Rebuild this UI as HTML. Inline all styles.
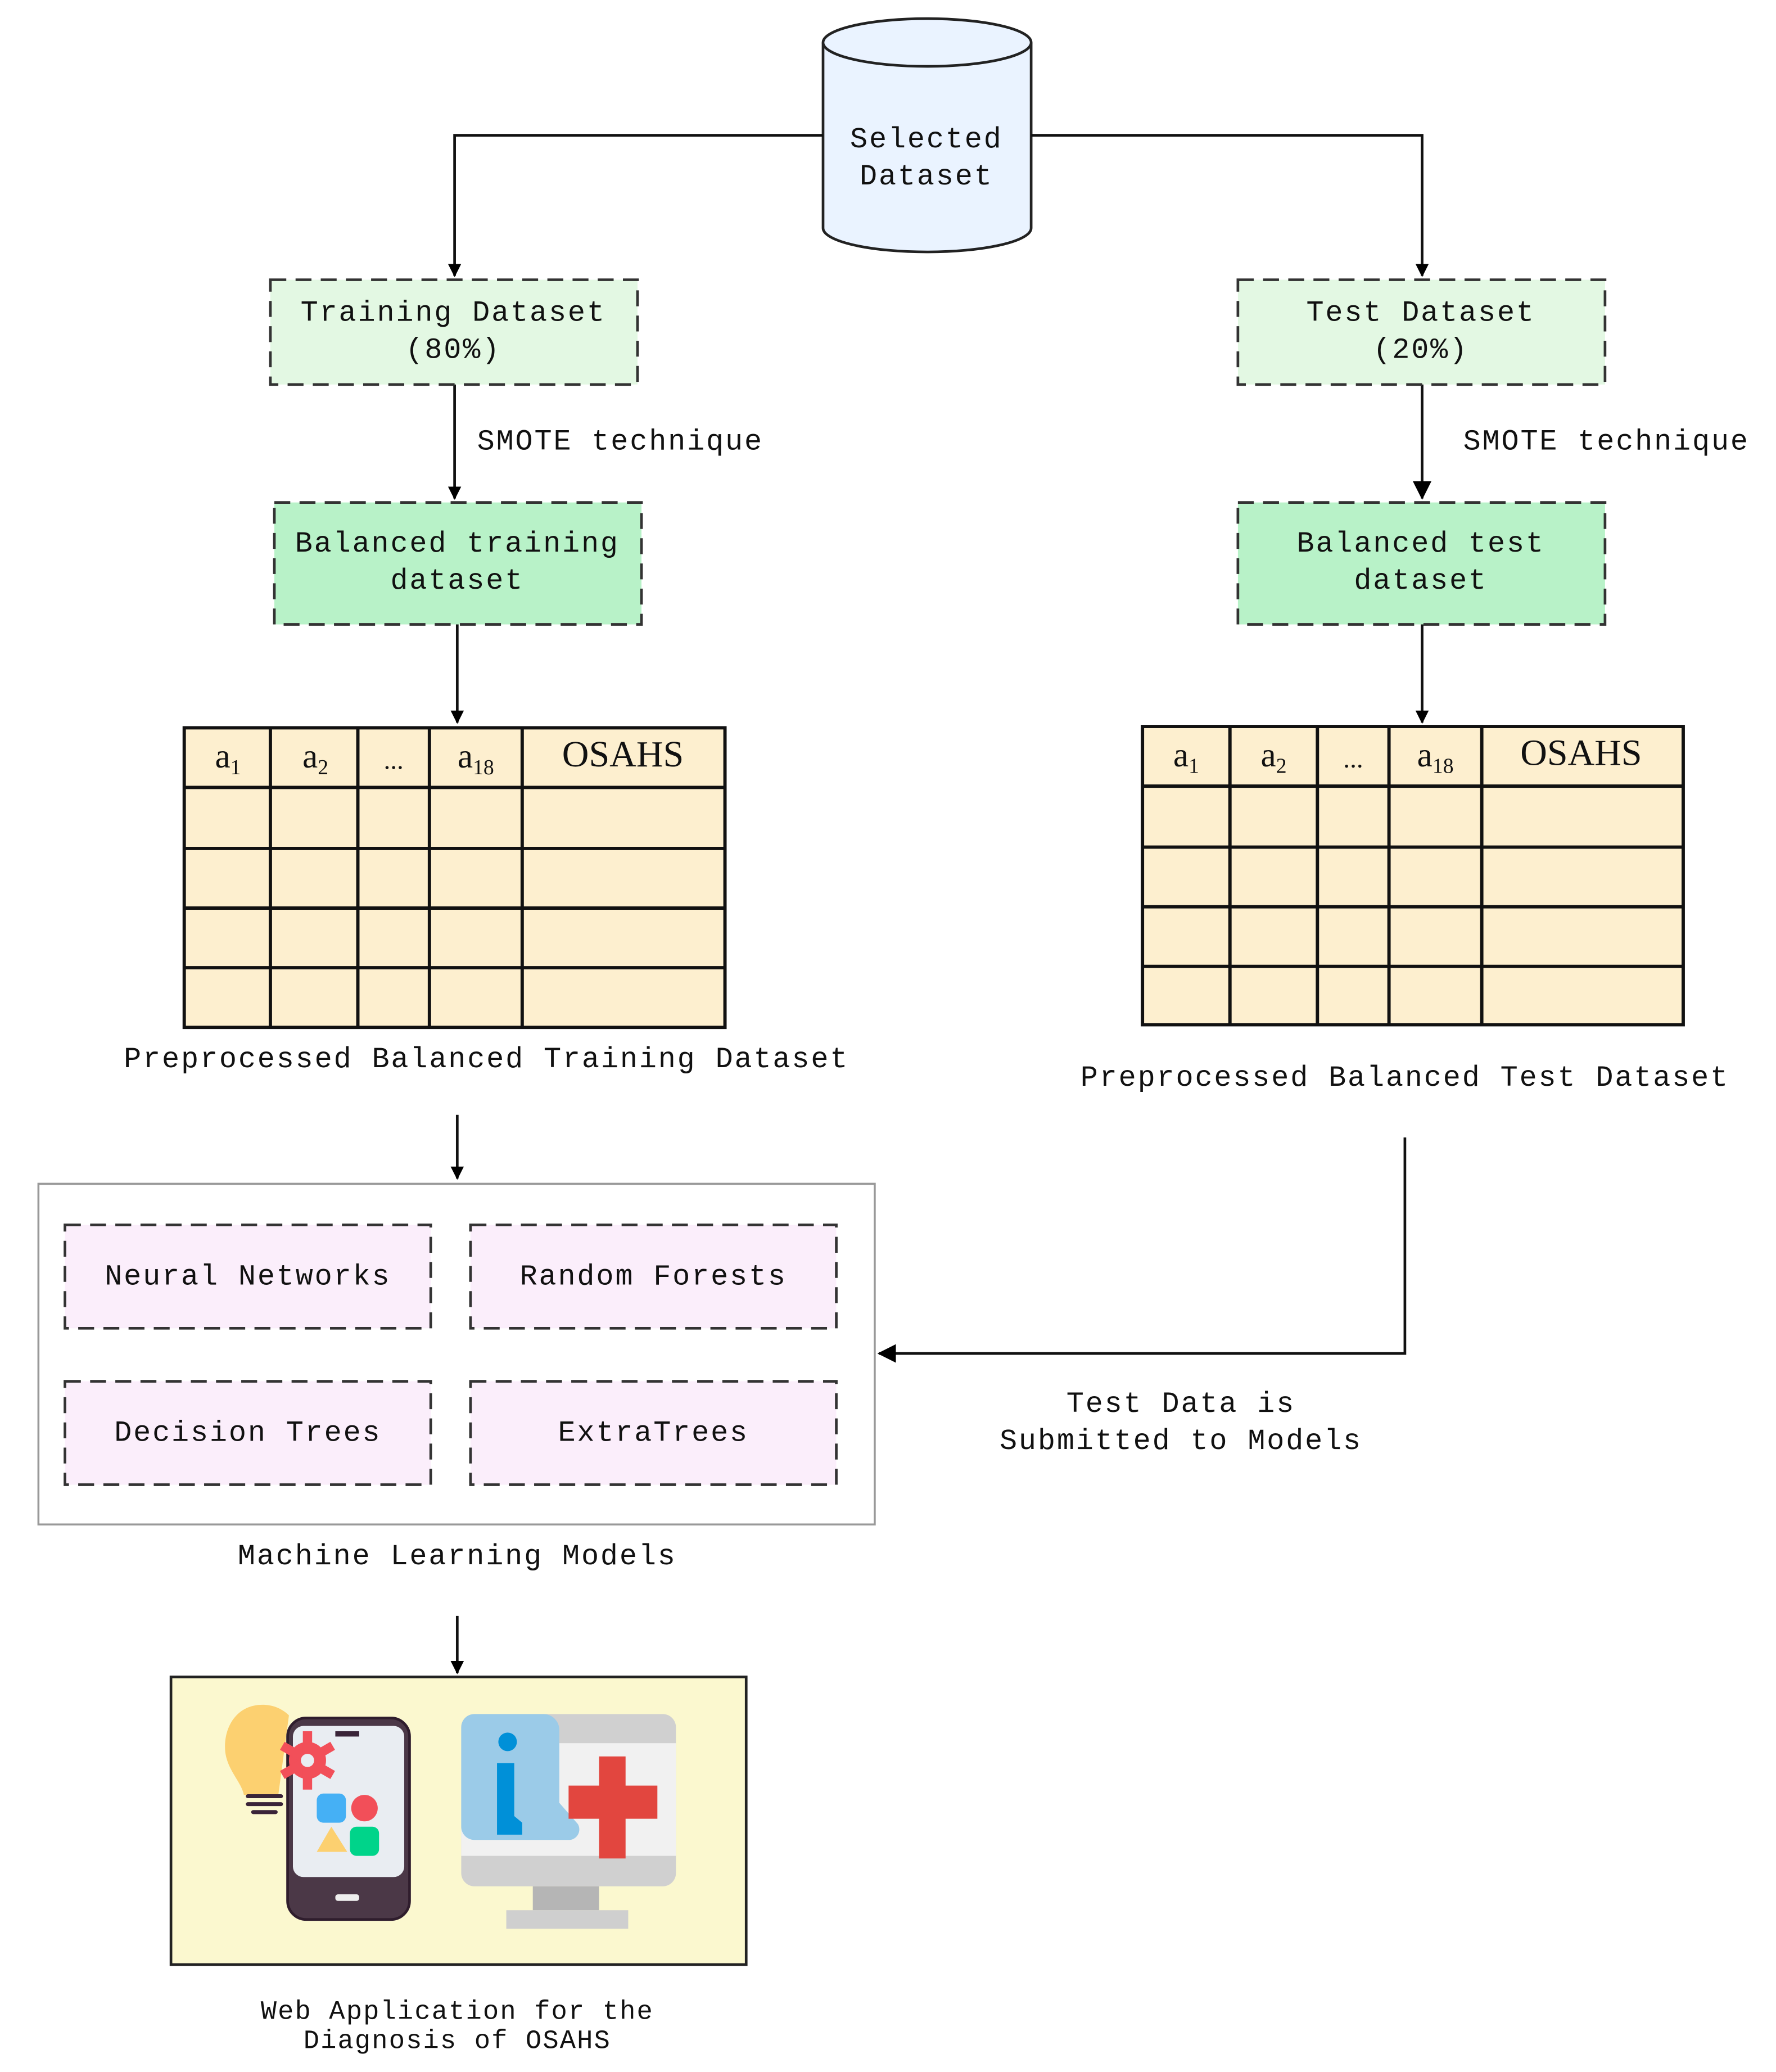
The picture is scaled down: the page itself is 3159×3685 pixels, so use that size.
<!DOCTYPE html>
<html><head><meta charset="utf-8"><style>
html,body{margin:0;padding:0;background:#fff;}
svg{display:block;}
.t{font-family:"Liberation Mono",monospace;font-size:22px;letter-spacing:1.2px;fill:#111;text-anchor:middle;}
.s{font-family:"Liberation Serif",serif;fill:#111;text-anchor:middle;}
</style></head><body>
<svg width="3159" height="3685" viewBox="0 0 1340 1563" xmlns="http://www.w3.org/2000/svg">
<defs><marker id="a" markerWidth="10" markerHeight="10" refX="9" refY="5" orient="auto" markerUnits="userSpaceOnUse"><path d="M0,0 L10,5 L0,10 z" fill="#000"/></marker>
<marker id="b" markerWidth="14" markerHeight="14" refX="13" refY="7" orient="auto" markerUnits="userSpaceOnUse"><path d="M0,0 L14,7 L0,14 z" fill="#000"/></marker></defs>
<path d="M621,32 L621,172 A78.5,18 0 0 0 778,172 L778,32" fill="#eaf3ff" stroke="#222" stroke-width="2"/>
<ellipse cx="699.5" cy="32" rx="78.5" ry="18" fill="#eaf3ff" stroke="#222" stroke-width="2"/>
<text class="t" x="699" y="111">Selected</text>
<text class="t" x="699" y="139">Dataset</text>
<g fill="none" stroke="#111" stroke-width="2">
<path d="M621,102 H343 V208" marker-end="url(#a)"/>
<path d="M778,102 H1073 V208" marker-end="url(#a)"/>
<path d="M343,290 V376" marker-end="url(#a)"/>
<path d="M1073,290 V376" marker-end="url(#b)"/>
<path d="M345,471 V545" marker-end="url(#a)"/>
<path d="M1073,471 V545" marker-end="url(#a)"/>
<path d="M345,841 V889" marker-end="url(#a)"/>
<path d="M1060,858 V1021 H663" marker-end="url(#b)"/>
<path d="M345,1219 V1262" marker-end="url(#a)"/>
</g>
<g stroke="#333" stroke-width="2" stroke-dasharray="12,7">
<rect x="204" y="211" width="277" height="79" fill="#e3f8e3"/>
<rect x="934" y="211" width="277" height="79" fill="#e3f8e3"/>
<rect x="207" y="379" width="277" height="92" fill="#b8f2c8"/>
<rect x="934" y="379" width="277" height="92" fill="#b8f2c8"/>
</g>
<text class="t" x="342" y="242">Training Dataset</text>
<text class="t" x="342" y="270">(80%)</text>
<text class="t" x="1072" y="242">Test Dataset</text>
<text class="t" x="1072" y="270">(20%)</text>
<text class="t" x="468" y="339">SMOTE technique</text>
<text class="t" x="1212" y="339">SMOTE technique</text>
<text class="t" x="345" y="416">Balanced training</text>
<text class="t" x="345" y="444">dataset</text>
<text class="t" x="1072" y="416">Balanced test</text>
<text class="t" x="1072" y="444">dataset</text>
<g stroke="#111" stroke-width="2.5" fill="#fdefcf">
<rect x="139" y="549" width="408" height="226"/>
<path d="M204,549V775M270,549V775M324,549V775M394,549V775M139,594H547M139,640H547M139,685H547M139,730H547" fill="none"/>
<rect x="862" y="548" width="408" height="225"/>
<path d="M928,548V773M994,548V773M1048,548V773M1118,548V773M862,593H1270M862,639H1270M862,684H1270M862,729H1270" fill="none"/>
</g>
<g font-size="26">
<text class="s" x="172" y="579" font-size="26">a<tspan font-size="16" dy="5">1</tspan></text>
<text class="s" x="238" y="579" font-size="26">a<tspan font-size="16" dy="5">2</tspan></text>
<text class="s" x="297" y="580" font-size="20">...</text>
<text class="s" x="359" y="579" font-size="26">a<tspan font-size="16" dy="5">18</tspan></text>
<text class="s" x="470" y="578" font-size="28">OSAHS</text>
<text class="s" x="895" y="578" font-size="26">a<tspan font-size="16" dy="5">1</tspan></text>
<text class="s" x="961" y="578" font-size="26">a<tspan font-size="16" dy="5">2</tspan></text>
<text class="s" x="1021" y="579" font-size="20">...</text>
<text class="s" x="1083" y="578" font-size="26">a<tspan font-size="16" dy="5">18</tspan></text>
<text class="s" x="1193" y="577" font-size="28">OSAHS</text>
</g>
<text class="t" x="367" y="805">Preprocessed Balanced Training Dataset</text>
<text class="t" x="1060" y="819">Preprocessed Balanced Test Dataset</text>
<rect x="29" y="893" width="631" height="257" fill="#fff" stroke="#999" stroke-width="1.5"/>
<g stroke="#333" stroke-width="2" stroke-dasharray="12,7" fill="#fbeefb">
<rect x="49" y="924" width="276" height="78"/>
<rect x="355" y="924" width="276" height="78"/>
<rect x="49" y="1042" width="276" height="78"/>
<rect x="355" y="1042" width="276" height="78"/>
</g>
<text class="t" x="187" y="969">Neural Networks</text>
<text class="t" x="493" y="969">Random Forests</text>
<text class="t" x="187" y="1087">Decision Trees</text>
<text class="t" x="493" y="1087">ExtraTrees</text>
<text class="t" x="345" y="1180">Machine Learning Models</text>
<text class="t" x="891" y="1065">Test Data is</text>
<text class="t" x="891" y="1093">Submitted to Models</text>
<rect x="129" y="1265" width="434" height="217" fill="#fbf8cf" stroke="#222" stroke-width="2"/>
<path d="M198,1286 c-20,0 -30,18 -28,36 c2,14 12,22 14,32 h26 l8,-60 c-5,-5 -12,-8 -20,-8z" fill="#fcd070"/>
<g stroke="#3a2438" stroke-width="3" stroke-linecap="round"><path d="M187,1355 H212 M187,1361 H212 M191,1367 H208"/></g>
<rect x="217" y="1296" width="92" height="152" rx="14" fill="#4b3847" stroke="#2f1d2d" stroke-width="2"/>
<rect x="221" y="1302" width="84" height="114" rx="8" fill="#e9edf2"/>
<rect x="253" y="1306" width="18" height="4" fill="#3a2438"/>
<rect x="253" y="1429" width="18" height="5" rx="2" fill="#eee"/>
<g fill="#f24f59"><circle cx="232" cy="1328" r="14"/>
<g stroke="#f24f59" stroke-width="7"><path d="M232,1306V1350M213,1317L251,1339M213,1339L251,1317"/></g></g>
<circle cx="232" cy="1328" r="5" fill="#e9edf2"/>
<rect x="239" y="1353" width="22" height="22" rx="5" fill="#45b0f5"/>
<circle cx="275" cy="1364" r="10" fill="#f24f59"/>
<path d="M250,1378 L262,1397 H239 Z" fill="#fcd070"/>
<rect x="264" y="1378" width="22" height="22" rx="5" fill="#00d48a"/>
<rect x="348" y="1293" width="162" height="130" rx="10" fill="#d0d0d0"/>
<rect x="348" y="1315" width="162" height="85" fill="#f1f1f1"/>
<rect x="402" y="1423" width="50" height="18" fill="#b5b5b5"/>
<rect x="382" y="1441" width="92" height="14" fill="#cfcfcf"/>
<path d="M358,1293 h52 a12,12 0 0 1 12,12 v55 l14,16 a8,8 0 0 1 -6,12 h-72 a10,10 0 0 1 -10,-10 v-75 a10,10 0 0 1 10,-10z" fill="#9bcbe8"/>
<circle cx="383" cy="1314" r="7" fill="#0090d8"/>
<path d="M375,1330 h13 v40 l6,5 v9 h-19z" fill="#0090d8"/>
<path d="M452,1325 h20 v22 h24 v25 h-24 v30 h-20 v-30 h-23 v-25 h23z" fill="#e2463f"/>
<text class="t" x="345" y="1523" style="font-size:20px;letter-spacing:0.9px">Web Application for the</text>
<text class="t" x="345" y="1545" style="font-size:20px;letter-spacing:0.9px">Diagnosis of OSAHS</text>
</svg>
</body></html>
